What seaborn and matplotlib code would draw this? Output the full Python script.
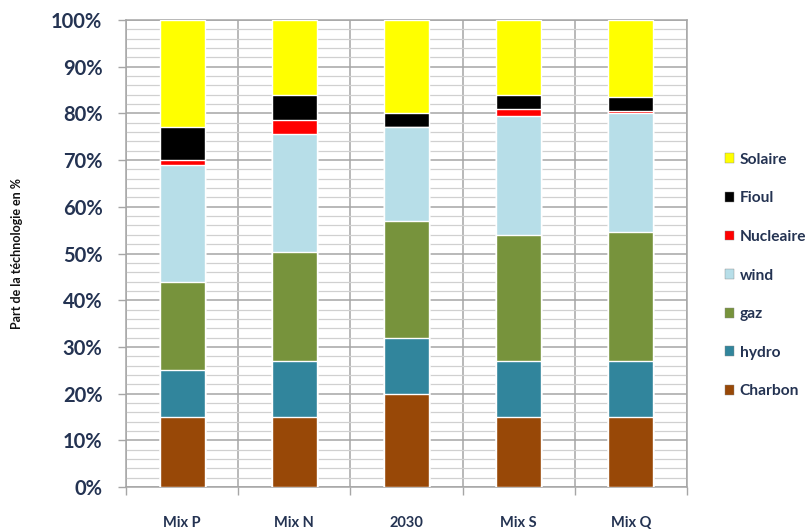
import numpy as np
import pandas as pd
import matplotlib
matplotlib.use("Agg")
import matplotlib.pyplot as plt
import seaborn as sns
from matplotlib.ticker import MultipleLocator, FixedLocator, FuncFormatter
from matplotlib.patches import Patch

categories = ["Mix P", "Mix N", "2030", "Mix S", "Mix Q"]
technologies = ["Charbon", "hydro", "gaz", "wind", "Nucleaire", "Fioul", "Solaire"]
charbon = [15, 15, 20, 15, 15]
hydro = [10, 12, 12, 12, 12]
gaz = [19, 23.3, 25, 27, 27.5]
wind = [25, 25.2, 20, 25.5, 25.5]
nucleaire = [1, 3, 0, 1.5, 0.5]
fioul = [7, 5.5, 3, 3, 3]
solaire = [23, 16, 20, 16, 16.5]
colors = ["#984807", "#31859C", "#77933C", "#B7DEE8", "#FF0000", "#000000", "#FFFF00"]

series = [charbon, hydro, gaz, wind, nucleaire, fioul, solaire]
df = pd.DataFrame({t: s for t, s in zip(technologies, series)}, index=categories)
cum = df.cumsum(axis=1)

sns.set_theme(style="white")
plt.rcParams["font.family"] = ["Lato", "DejaVu Sans"]

fig = plt.figure(figsize=(8.12, 5.31), dpi=100)
ax = fig.add_axes([126 / 812, 44 / 531, 561 / 812, 467 / 531])

# draw from the top layer down so each lower layer overlaps
for tech, col in reversed(list(zip(technologies, colors))):
    d = pd.DataFrame({"cat": categories, "val": cum[tech].values})
    sns.barplot(data=d, x="cat", y="val", color=col, width=0.4, ax=ax,
                edgecolor="white", linewidth=1.0, saturation=1, zorder=3)

txt = "#243352"
ax.set_xlim(-0.5, len(categories) - 0.5)
ax.set_ylim(0, 100)
ax.yaxis.set_major_locator(MultipleLocator(10))
ax.yaxis.set_minor_locator(MultipleLocator(2))
ax.yaxis.set_major_formatter(FuncFormatter(lambda v, p: f"{int(v)}%"))
ax.xaxis.set_major_locator(FixedLocator(np.arange(-0.5, len(categories), 1.0)))
ax.xaxis.set_major_formatter(FuncFormatter(lambda v, p: ""))
ax.xaxis.set_minor_locator(FixedLocator(np.arange(len(categories))))
ax.xaxis.set_minor_formatter(FuncFormatter(lambda v, p: categories[int(round(v))]))

ax.grid(which="major", axis="y", color="#A6A6A6", linewidth=1.1, zorder=0)
ax.grid(which="minor", axis="y", color="#D0D0D0", linewidth=0.9, zorder=0)
ax.grid(which="major", axis="x", color="#A6A6A6", linewidth=1.1, zorder=0)
ax.set_axisbelow(True)

ax.tick_params(axis="y", which="major", length=6, width=1, color="#A6A6A6",
               labelsize=14.5, labelcolor=txt, pad=11, left=True)
ax.tick_params(axis="y", which="minor", length=0)
ax.tick_params(axis="x", which="major", length=6, width=1, color="#A6A6A6", bottom=True)
ax.tick_params(axis="x", which="minor", length=0, labelsize=10.5, labelcolor=txt, pad=21)
for lab in ax.get_yticklabels() + ax.get_xticklabels(minor=True):
    lab.set_fontweight("bold")

for sp in ax.spines.values():
    sp.set_color("#A6A6A6")
    sp.set_linewidth(1.1)
    sp.set_visible(True)

ax.set_xlabel("")
ax.set_ylabel("Part de la téchnologie en %", fontsize=9, fontweight="bold",
              color="#111111", labelpad=20)

handles = [Patch(facecolor=c, edgecolor="#888888", linewidth=0.3, label=t)
           for t, c in zip(technologies, colors)][::-1]
fig.legend(handles=handles, loc="center left", bbox_to_anchor=(711 / 812, 0.481),
           frameon=False, labelspacing=1.58, handlelength=0.6,
           handleheight=0.6, handletextpad=0.35, labelcolor=txt,
           prop={"weight": "bold", "size": 11.2})

fig.savefig("out.png", dpi=100)
